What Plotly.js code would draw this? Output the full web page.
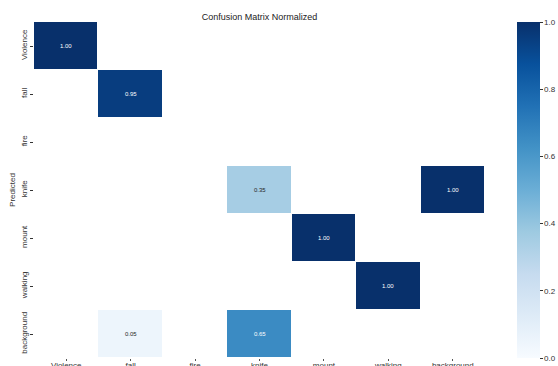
<!DOCTYPE html>
<html>
<head>
<meta charset="utf-8">
<script src="https://cdn.plot.ly/plotly-3.0.1.min.js"></script>
<style>html,body{margin:0;padding:0;background:#fff;}#chart{width:558px;height:366px;}</style>
</head>
<body>
<div id="chart"></div>
<script>
// Class labels (true along x, predicted along y)
const trueLabels = ['Violence', 'fall', 'fire', 'knife', 'mount', 'walking', 'background'];
const predictedLabels = ['Violence', 'fall', 'fire', 'knife', 'mount', 'walking', 'background'];

// Normalized confusion values per predicted row; null = empty cell
const rowViolence   = [1.00, null, null, null, null, null, null];
const rowFall       = [null, 0.95, null, null, null, null, null];
const rowFire       = [null, null, null, null, null, null, null];
const rowKnife      = [null, null, null, 0.35, null, null, 1.00];
const rowMount      = [null, null, null, null, 1.00, null, null];
const rowWalking    = [null, null, null, null, null, 1.00, null];
const rowBackground = [null, 0.05, null, 0.65, null, null, null];

const colorbarTicks = [0.0, 0.2, 0.4, 0.6, 0.8, 1.0];

const z = [rowViolence, rowFall, rowFire, rowKnife, rowMount, rowWalking, rowBackground];

// matplotlib-style Blues
const blues = [
  [0.0, '#f7fbff'], [0.125, '#deebf7'], [0.25, '#c6dbef'], [0.375, '#9ecae1'],
  [0.5, '#6baed6'], [0.625, '#4292c6'], [0.75, '#2171b5'], [0.875, '#08519c'], [1.0, '#08306b']
];

const FONT = 'Liberation Sans, Arial, sans-serif';

// Cell annotations, colored for contrast against the cell
const annotations = [];
z.forEach((row, i) => {
  row.forEach((v, j) => {
    if (v === null) return;
    annotations.push({
      x: trueLabels[j], y: predictedLabels[i], xref: 'x', yref: 'y',
      text: v.toFixed(2), showarrow: false,
      font: {family: FONT, size: 6, color: v > 0.5 ? '#ffffff' : '#262626'}
    });
  });
});

const trace = {
  type: 'heatmap',
  x: trueLabels,
  y: predictedLabels,
  z: z,
  zmin: 0, zmax: 1,
  colorscale: blues,
  xgap: 1, ygap: 1,
  hoverongaps: false,
  colorbar: {
    x: 1.071, xanchor: 'left', xpad: 0, ypad: 0,
    y: 0.5, yanchor: 'middle', len: 1, lenmode: 'fraction',
    thickness: 23, outlinewidth: 0,
    tickvals: colorbarTicks, ticktext: colorbarTicks.map(t => t.toFixed(1)),
    ticks: 'outside', ticklen: 3, tickwidth: 1, tickcolor: '#333',
    tickfont: {family: FONT, size: 8, color: '#333'}
  }
};

const layout = {
  width: 558, height: 366,
  margin: {l: 34, r: 73, t: 22, b: 8, autoexpand: false},
  paper_bgcolor: '#ffffff', plot_bgcolor: '#ffffff',
  title: {
    text: 'Confusion Matrix Normalized',
    x: 0.465, xanchor: 'center', y: 0.955, yanchor: 'middle',
    font: {family: FONT, size: 9, color: '#222'}
  },
  xaxis: {
    type: 'category', showgrid: false, zeroline: false, showline: false,
    ticks: 'outside', ticklen: 2, tickwidth: 1, tickcolor: '#555',
    ticklabelstandoff: -3,
    tickfont: {family: FONT, size: 8, color: '#333'},
    automargin: false
  },
  yaxis: {
    type: 'category', autorange: 'reversed', showgrid: false, zeroline: false, showline: false,
    ticks: 'outside', ticklen: 3, tickwidth: 1, tickcolor: '#333', tickangle: -90,
    tickfont: {family: FONT, size: 8, color: '#333'},
    title: {text: 'Predicted', standoff: 2, font: {family: FONT, size: 8, color: '#333'}},
    automargin: false
  },
  annotations: annotations
};

Plotly.newPlot('chart', [trace], layout, {displayModeBar: false, staticPlot: true});
</script>
</body>
</html>
